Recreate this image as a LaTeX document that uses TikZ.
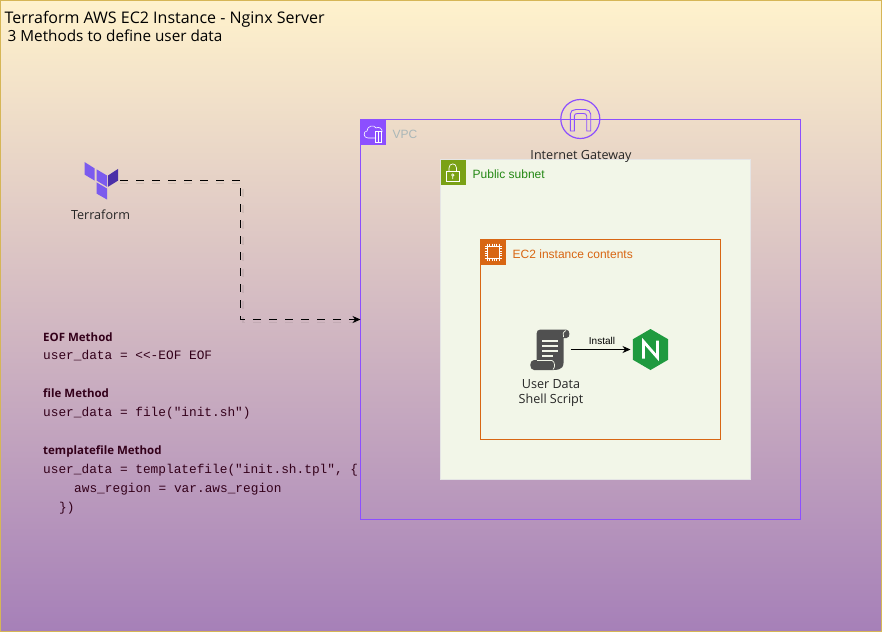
\documentclass[tikz,border=0pt]{standalone}
\usepackage{fontspec}
\setmainfont{Liberation Sans}
\newfontfamily\handfont{Open Sans}
\newfontfamily\codefont{Liberation Mono}
\usetikzlibrary{arrows.meta}
\definecolor{bgtop}{HTML}{FFF2CC}
\definecolor{bgbot}{HTML}{A680B8}
\definecolor{bgline}{HTML}{D6B656}
\definecolor{vpccol}{HTML}{8C4FFF}
\definecolor{subcol}{HTML}{7AA116}
\definecolor{subtxt}{HTML}{248814}
\definecolor{subfill}{HTML}{F2F6E8}
\definecolor{ec2col}{HTML}{D86613}
\definecolor{vpctxt}{HTML}{AAB7B8}
\definecolor{codecol}{HTML}{33001A}
\definecolor{tfa}{HTML}{7B5BEE}
\definecolor{tfb}{HTML}{4B2FA8}
\definecolor{scrollcol}{HTML}{505050}
\definecolor{ngx}{HTML}{1F9A3F}
\tikzset{
  group/.style={draw,anchor=north west,inner sep=0pt,outer sep=0pt},
  badge/.style={anchor=north west,inner sep=0pt,outer sep=0pt,minimum width=25pt,minimum height=25pt},
  grouplabel/.style={anchor=base west,inner sep=0pt,font=\fontsize{12}{14}\selectfont},
  title/.style={anchor=base west,inner sep=0pt,text=black,font=\handfont\fontsize{16}{18}\selectfont},
  hand/.style={anchor=base,inner sep=0pt,text=black!85,align=center,font=\handfont\fontsize{12.6}{15}\selectfont},
  method/.style={anchor=base west,inner sep=0pt,text=codecol,font=\handfont\bfseries\fontsize{11.5}{14}\selectfont},
  code/.style={anchor=base west,inner sep=0pt,text=codecol,font=\codefont\fontsize{12.8}{14}\selectfont},
  iconbox/.style={inner sep=0pt,outer sep=0pt,minimum width=#1,minimum height=#1},
  flow/.style={draw=black,line width=0.8pt,-{Stealth[length=8pt,width=7pt]}},
  flowshadow/.style={draw=black,opacity=0.07,line width=1.4pt},
  glyph/.style={draw=white,line width=0.7pt,fill=none},
}
\begin{document}
\begin{tikzpicture}[x=1pt,y=-1pt]
\useasboundingbox (0,0) rectangle (882,632);
% background
\shade[top color=bgtop,bottom color=bgbot] (0.5,0.5) rectangle (881,631);
\draw[bgline,line width=1pt] (0.5,0.5) rectangle (881,631);
\node[title] (t1) at (4.5,23) {Terraform AWS EC2 Instance - Nginx Server};
\node[title,font=\handfont\fontsize{15.3}{18}\selectfont] (t2) at (7.5,41) {3 Methods to define user data};

% groups
\node[group,draw=vpccol,line width=0.8pt,minimum width=440pt,minimum height=400pt] (vpc) at (360.5,119.5) {};
\node[group,draw=black!10,fill=subfill,line width=0.8pt,minimum width=310pt,minimum height=320pt] (sub) at (440.5,159.5) {};
\node[group,draw=ec2col,line width=0.8pt,minimum width=240pt,minimum height=200pt] (ec2) at (480.5,239.5) {};

% badges
\node[badge,fill=vpccol] (vpcb) at (360.5,119.5) {};
\draw[glyph,line width=0.6pt] (376,138) -- (368,138) .. controls (363,138) and (363,131) .. (367,131) .. controls (367,126) and (374,124) .. (376,128) .. controls (379,126) and (383,129) .. (382,132);
\draw[glyph,line width=0.6pt] (375.5,131) rectangle (381.5,142);
\draw[glyph,line width=0.6pt] (378.5,131) -- (378.5,142);
\node[badge,fill=subcol] (subb) at (440.5,159.5) {};
\draw[glyph] (446.5,171.5) rectangle (459,181.5);
\draw[glyph] (449,171.5) -- (449,168) .. controls (449,162.5) and (456.5,162.5) .. (456.5,168) -- (456.5,171.5);
\draw[white,line width=0.7pt] (452.8,175) circle (1.2) (452.8,176.2) -- (452.8,179);
\node[badge,fill=ec2col] (ec2b) at (480.5,239.5) {};
\draw[glyph] (487,246) rectangle (499,258);
\foreach \d in {0,2.4,4.8,7.2,9.6,12}{
  \draw[white,line width=0.5pt] (487+\d,243.5) -- (487+\d,246) (487+\d,258) -- (487+\d,260.5)
    (484.5,246+\d) -- (487,246+\d) (499,246+\d) -- (501.5,246+\d);
}

\node[grouplabel,text=vpctxt] (vpcl) at (392.5,138) {VPC};
\node[grouplabel,text=subtxt] (subl) at (472.5,178) {Public subnet};
\node[grouplabel,text=ec2col] (ec2l) at (512.5,258) {EC2 instance contents};

% internet gateway
\node[iconbox=39pt,circle,draw=vpccol,line width=1.2pt] (igw) at (580.3,119) {};
\draw[vpccol,line width=0.9pt] (570.3,131) -- (570.3,114) .. controls (570.3,111) and (573,109.5) .. (576,109.5) -- (585,109.5) .. controls (588,109.5) and (590.7,111) .. (590.7,114) -- (590.7,131) -- (586.7,131) -- (586.7,116) .. controls (586.7,114) and (585,113.5) .. (583.5,113.5) -- (577.5,113.5) .. controls (576,113.5) and (574.3,114) .. (574.3,116) -- (574.3,131) -- cycle;
\node[hand] (igwl) at (581,159) {Internet Gateway};

% terraform
\node[iconbox=38pt] (tf) at (101,180.5) {};
\fill[tfa] (84.5,162) -- (94.5,168.3) -- (94.5,180.5) -- (84.5,174.5) -- cycle;
\fill[tfa] (96.5,169.3) -- (107,175.5) -- (107,186.8) -- (96.5,180.5) -- cycle;
\fill[tfb] (118.2,168.8) -- (108,175.5) -- (108,186.8) -- (118.2,180.5) -- cycle;
\fill[tfa] (96.5,182.3) -- (107,188.5) -- (107,199.5) -- (96.5,193.5) -- cycle;
\node[hand] (tfl) at (100.5,219) {Terraform};

% script icon
\node[iconbox=41pt] (script) at (550,349.5) {};
\fill[scrollcol] (540.5,329.5) -- (566,329.5) .. controls (570.5,329.5) and (570.5,338) .. (566.5,338) -- (563.5,338) -- (563.5,363) .. controls (563.5,370.5) and (555,370) .. (553,370) -- (534,370) .. controls (529,370) and (529,360) .. (534,360) -- (536.5,360) -- (536.5,334) .. controls (536.5,331) and (538,329.5) .. (540.5,329.5) -- cycle;
\draw[subfill,line width=0.7pt] (563.5,337) .. controls (562.5,335) and (563,331.5) .. (566,330.5);
\draw[subfill,line width=0.7pt] (553,369.5) .. controls (555.5,367) and (555,362) .. (552,360.5) -- (537,360.5);
\foreach \yy/\xe in {341/557.5,346/557.5,351/557.5,356/553}{
  \draw[subfill,line width=1.1pt] (542,\yy) -- (\xe,\yy);
}
\node[hand,anchor=base] (scriptl) at (551,403) {User Data\\Shell Script};

% nginx
\node[iconbox=40pt] (ngx) at (650.5,349.5) {};
\fill[ngx] (650.5,329) -- (668.2,339.3) -- (668.2,359.7) -- (650.5,370) -- (632.8,359.7) -- (632.8,339.3) -- cycle;
\draw[white,line width=2.8pt,line join=miter] (643.5,358.5) -- (643.5,341.5) -- (657.5,357.5) -- (657.5,340.5);

% connectors
\draw[flowshadow,dash pattern=on 8pt off 8pt] (120,183.5) -- (243,183.5) -- (243,322.5) -- (358,322.5);
\path[flow,dash pattern=on 8pt off 8pt] (tf.east) -- ++(120.5,0) |- (vpc.west);
\path[flow] (script.east) -- (ngx.west);
\node[inner sep=0pt,anchor=base,font=\fontsize{10}{12}\selectfont] (inst) at (602,344) {Install};

% methods
\node[method] at (43,341) {EOF Method};
\node[code] at (43,359) {user\_data = <{}<-EOF EOF};
\node[method] at (43,397) {file Method};
\node[code] at (43,416) {user\_data = file("init.sh")};
\node[method] at (43,454) {templatefile Method};
\node[code] at (43,473) {user\_data = templatefile("init.sh.tpl", \{};
\node[code] at (74,492) {aws\_region = var.aws\_region};
\node[code] at (59,511) {\})};
\end{tikzpicture}
\end{document}
